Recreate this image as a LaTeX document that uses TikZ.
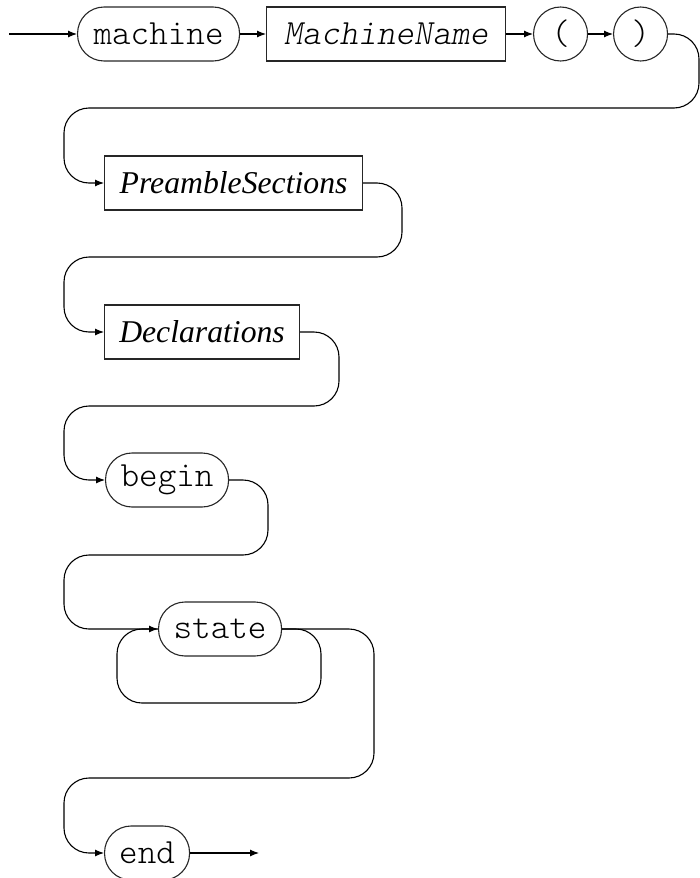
\documentclass[tikz,border=0pt]{standalone}
\usepackage{fontspec}
\setmainfont{Liberation Serif}
\newfontfamily\lmlight{lmmonolt10-regular.otf}[ItalicFont=lmmonolt10-oblique.otf]
\usetikzlibrary{arrows.meta}
\begin{document}
\begin{tikzpicture}[x=1pt,y=-1pt,
  base/.style={draw=black!85,line width=1.1pt,minimum height=54pt,inner sep=0pt,anchor=west},
  ttf/.style={font=\lmlight\fontsize{35.4}{36}\selectfont},
  term/.style={base,rectangle,rounded corners=26.5pt,ttf},
  termc/.style={base,circle,minimum size=54pt,ttf},
  nonterm/.style={base,rectangle,font=\itshape\fontsize{31.7}{32}\selectfont},
  ntmono/.style={base,rectangle,font=\lmlight\itshape\fontsize{35.4}{36}\selectfont},
  line/.style={line width=1.1pt,rounded corners=25pt},
  arr/.style={line,-{Latex[length=9pt,width=7pt]}}]
\useasboundingbox (0,0) rectangle (700,878);
% nodes
\node[term,minimum width=162pt] (machine) at (77,34) {machine};
\node[ntmono,minimum width=239pt] (mname) at (266,34) {MachineName};
\node[termc] (lp) at (533,34) {(};
\node[termc] (rp) at (613,34) {)};
\node[nonterm,minimum width=258pt] (pre) at (104,183) {PreambleSections};
\node[nonterm,minimum width=195pt] (decl) at (104,332) {Declarations};
\node[term,minimum width=123pt] (begin) at (105,480) {begin};
\node[term,minimum width=123pt] (state) at (158,629) {state};
\node[term,minimum width=85pt] (end) at (104,853) {end};
\coordinate (start) at (9,34);
\coordinate (finish) at (259,853);
% connectors
\draw[arr] (start) -- (machine.west);
\draw[arr] (machine.east) -- (mname.west);
\draw[arr] (mname.east) -- (lp.west);
\draw[arr] (lp.east) -- (rp.west);
\draw[arr] (rp.east) -- (699,34) -- (699,108) -- (64,108) -- (64,183) -- (pre.west);
\draw[arr] (pre.east) -- (402,183) -- (402,257) -- (64,257) -- (64,332) -- (decl.west);
\draw[arr] (decl.east) -- (339,332) -- (339,406) -- (64,406) -- (64,480) -- (begin.west);
\draw[arr] (begin.east) -- (268,480) -- (268,555) -- (64,555) -- (64,629) -- (state.west);
\draw[line] (state.east) -- (321,629) -- (321,703) -- (117,703) -- (117,629) -- (state.west);
\draw[arr] (state.east) -- (374,629) -- (374,778) -- (64,778) -- (64,853) -- (end.west);
\draw[arr] (end.east) -- (finish);
\end{tikzpicture}
\end{document}
